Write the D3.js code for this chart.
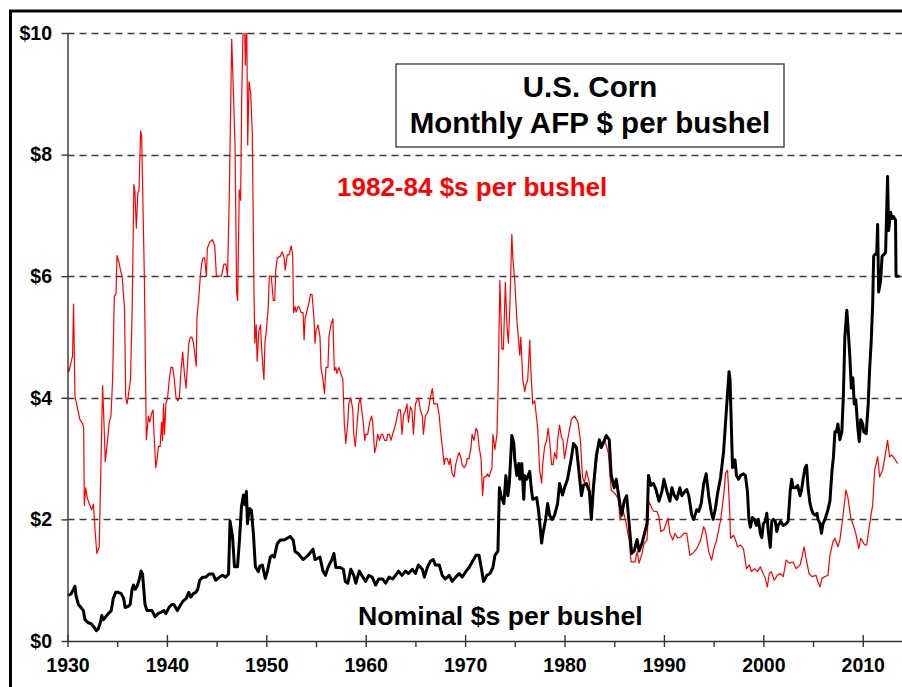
<!DOCTYPE html>
<html>
<head>
<meta charset="UTF-8" />
<title>U.S. Corn Monthly AFP</title>
<script src="https://cdn.jsdelivr.net/npm/d3@7"></script>
<style>
  body { margin: 0; background: #fff; }
  svg { display: block; background: #fff; }
  text { font-family: "Liberation Sans", Arial, sans-serif; font-weight: bold; }
</style>
</head>
<body>
<div id="chart"></div>
<script>
// 1982-84 dollars per bushel  [year, value]
const realPrice = [
  [1930.0,4.5],[1930.14,4.43],[1930.51,4.69],[1930.61,5.54],[1930.75,4.03],[1930.98,3.85],[1931.25,3.64],
  [1931.53,3.57],[1931.63,3.5],[1931.69,2.23],[1931.83,2.52],[1932.0,2.35],[1932.2,2.25],[1932.44,2.16],
  [1932.61,2.25],[1932.78,1.8],[1932.95,1.44],[1933.19,1.55],[1933.39,3.1],[1933.53,4.2],[1933.69,3.5],
  [1933.8,2.95],[1934.03,3.3],[1934.2,3.6],[1934.37,3.7],[1934.54,4.3],[1934.71,5.67],[1934.88,5.7],
  [1934.98,6.34],[1935.22,6.2],[1935.32,6.1],[1935.49,6.0],[1935.73,5.5],[1935.86,4.0],[1936.0,3.9],
  [1936.17,4.1],[1936.34,4.3],[1936.51,5.5],[1936.68,7.51],[1936.78,7.4],[1936.92,6.79],[1937.08,7.38],
  [1937.19,7.4],[1937.36,8.39],[1937.46,8.3],[1937.73,6.0],[1937.93,3.31],[1938.14,3.7],[1938.27,3.6],
  [1938.47,3.75],[1938.61,3.8],[1938.71,3.38],[1938.88,2.85],[1939.02,3.0],[1939.15,3.2],[1939.32,3.2],
  [1939.46,3.6],[1939.56,3.3],[1939.66,3.9],[1939.76,3.4],[1939.9,3.9],[1940.07,4.0],[1940.24,4.3],
  [1940.41,4.5],[1940.58,4.5],[1940.75,4.3],[1940.92,4.0],[1941.08,3.95],[1941.25,4.0],[1941.42,4.45],
  [1941.59,4.75],[1941.76,4.4],[1941.93,4.16],[1942.2,4.89],[1942.37,5.0],[1942.51,5.0],[1942.68,4.9],
  [1942.95,4.52],[1943.02,5.31],[1943.22,5.67],[1943.36,6.0],[1943.49,6.2],[1943.63,6.3],[1943.8,6.3],
  [1943.97,6.0],[1944.07,6.46],[1944.31,6.56],[1944.58,6.6],[1944.81,6.5],[1944.98,6.0],[1945.25,6.0],
  [1945.49,6.0],[1945.73,6.2],[1945.93,6.2],[1946.1,6.0],[1946.28,7.36],[1946.52,9.9],[1946.85,8.19],
  [1947.02,5.72],[1947.12,5.6],[1947.28,7.42],[1947.42,7.25],[1947.52,8.9],[1947.69,10.3],[1947.79,10.3],
  [1947.89,9.47],[1948.03,10.2],[1948.13,8.16],[1948.26,9.2],[1948.43,9.0],[1948.59,8.35],[1948.76,5.72],
  [1948.85,4.9],[1948.98,5.2],[1949.08,4.6],[1949.25,5.1],[1949.42,5.2],[1949.5,4.9],[1949.66,4.5],
  [1949.76,4.3],[1949.86,4.9],[1950.0,5.1],[1950.2,5.5],[1950.3,6.0],[1950.5,6.0],[1950.7,5.6],
  [1950.85,5.6],[1950.95,6.1],[1951.1,6.3],[1951.4,6.33],[1951.6,6.4],[1951.8,6.3],[1951.9,6.1],
  [1952.1,6.35],[1952.3,6.35],[1952.5,6.5],[1952.65,6.35],[1952.75,5.4],[1952.9,5.5],[1953.0,5.41],
  [1953.2,5.5],[1953.3,5.5],[1953.5,5.4],[1953.7,5.4],[1953.8,4.95],[1953.9,5.3],[1954.2,5.5],
  [1954.45,5.7],[1954.6,5.7],[1954.8,5.3],[1954.9,4.9],[1955.0,5.1],[1955.2,5.2],[1955.3,5.1],
  [1955.4,5.0],[1955.5,4.5],[1955.7,4.3],[1955.85,4.07],[1956.0,4.5],[1956.2,4.5],[1956.3,5.0],
  [1956.5,5.2],[1956.7,5.3],[1956.8,4.7],[1956.85,4.45],[1957.0,4.5],[1957.1,4.4],[1957.3,4.5],
  [1957.5,4.4],[1957.7,4.3],[1957.85,3.57],[1958.0,3.25],[1958.2,3.6],[1958.3,3.9],[1958.5,4.0],
  [1958.7,3.8],[1958.8,3.4],[1958.95,3.2],[1959.1,3.5],[1959.3,3.9],[1959.45,4.0],[1959.6,3.8],
  [1959.75,3.6],[1959.9,3.3],[1960.0,3.4],[1960.2,3.4],[1960.4,3.6],[1960.6,3.7],[1960.7,3.6],
  [1960.9,3.1],[1961.05,3.2],[1961.2,3.4],[1961.4,3.3],[1961.55,3.4],[1961.7,3.4],[1961.9,3.3],
  [1962.1,3.3],[1962.2,3.4],[1962.4,3.4],[1962.55,3.3],[1962.7,3.4],[1962.9,3.5],[1963.05,3.6],
  [1963.3,3.8],[1963.5,3.8],[1963.65,3.4],[1963.8,3.7],[1964.0,3.8],[1964.15,3.9],[1964.3,3.6],
  [1964.5,3.85],[1964.65,3.8],[1964.8,3.4],[1965.0,3.9],[1965.15,3.95],[1965.3,4.0],[1965.5,3.8],
  [1965.7,3.7],[1965.8,3.4],[1966.0,3.7],[1966.2,3.75],[1966.3,3.8],[1966.5,4.0],[1966.7,4.15],
  [1966.85,3.9],[1967.0,3.9],[1967.2,3.9],[1967.4,3.7],[1967.5,3.5],[1967.7,3.2],[1967.9,2.9],
  [1968.0,3.0],[1968.2,3.0],[1968.4,2.9],[1968.5,3.0],[1968.7,2.75],[1968.9,2.7],[1969.05,2.9],
  [1969.2,3.0],[1969.4,3.1],[1969.6,3.0],[1969.7,2.9],[1969.9,2.85],[1970.1,2.9],[1970.2,3.0],
  [1970.4,3.0],[1970.6,3.2],[1970.7,3.4],[1970.9,3.3],[1971.1,3.5],[1971.25,3.45],[1971.4,3.2],
  [1971.6,3.0],[1971.75,2.39],[1971.9,2.7],[1972.1,2.7],[1972.25,2.75],[1972.4,2.7],[1972.6,2.8],
  [1972.7,2.85],[1972.8,3.4],[1973.0,3.15],[1973.2,3.4],[1973.3,4.0],[1973.5,5.93],[1973.7,4.8],
  [1973.85,4.8],[1974.05,5.9],[1974.2,5.2],[1974.35,4.9],[1974.5,5.5],[1974.7,6.69],[1974.8,6.3],
  [1975.0,5.9],[1975.2,5.3],[1975.4,4.9],[1975.5,4.7],[1975.6,5.0],[1975.8,4.3],[1976.0,4.1],
  [1976.1,4.2],[1976.3,4.3],[1976.5,4.95],[1976.6,4.5],[1976.8,3.9],[1977.0,3.95],[1977.1,3.8],
  [1977.3,3.5],[1977.5,2.8],[1977.7,2.6],[1977.8,2.9],[1978.0,3.2],[1978.2,3.3],[1978.35,3.5],
  [1978.5,3.3],[1978.7,2.9],[1978.85,2.9],[1979.0,3.1],[1979.2,3.0],[1979.3,3.3],[1979.5,3.55],
  [1979.7,3.35],[1979.85,3.3],[1980.0,3.0],[1980.3,3.3],[1980.7,3.65],[1981.0,3.7],[1981.35,3.6],
  [1981.6,3.3],[1981.8,2.7],[1982.0,2.6],[1982.2,2.8],[1982.5,2.6],[1982.7,2.0],[1982.9,2.4],
  [1983.2,2.9],[1983.5,3.3],[1983.7,3.25],[1984.05,3.3],[1984.4,3.1],[1984.7,2.48],[1985.1,2.42],
  [1985.4,2.34],[1985.6,1.99],[1985.9,2.15],[1986.2,1.93],[1986.5,1.66],[1986.7,1.3],[1987.1,1.3],
  [1987.3,1.47],[1987.5,1.28],[1987.8,1.44],[1988.0,1.6],[1988.3,1.66],[1988.5,2.29],[1988.8,2.18],
  [1989.0,2.13],[1989.3,2.13],[1989.5,2.04],[1989.7,1.8],[1990.0,1.83],[1990.4,2.02],[1990.6,1.77],
  [1990.9,1.66],[1991.1,1.77],[1991.4,1.69],[1991.7,1.71],[1992.0,1.77],[1992.3,1.77],[1992.6,1.41],
  [1992.9,1.44],[1993.2,1.5],[1993.4,1.55],[1993.7,1.66],[1994.0,1.88],[1994.2,1.8],[1994.5,1.47],
  [1994.8,1.33],[1995.0,1.5],[1995.3,1.66],[1995.7,1.99],[1996.0,2.37],[1996.2,2.76],[1996.4,2.81],
  [1996.6,2.21],[1996.7,1.69],[1997.0,1.74],[1997.2,1.66],[1997.4,1.55],[1997.7,1.58],[1998.0,1.52],
  [1998.3,1.19],[1998.6,1.25],[1998.8,1.14],[1999.1,1.19],[1999.4,1.14],[1999.7,1.22],[1999.9,1.14],
  [2000.2,1.03],[2000.4,0.89],[2000.6,1.11],[2000.8,1.14],[2001.1,1.0],[2001.4,1.08],[2001.7,1.11],
  [2002.0,1.06],[2002.3,1.33],[2002.6,1.28],[2003.0,1.3],[2003.3,1.19],[2003.7,1.25],[2003.9,1.39],
  [2004.1,1.55],[2004.3,1.36],[2004.6,1.11],[2004.9,1.06],[2005.3,1.08],[2005.5,0.97],[2005.7,0.89],
  [2005.9,1.03],[2006.2,1.06],[2006.5,1.08],[2006.7,1.41],[2007.0,1.63],[2007.2,1.69],[2007.5,1.55],
  [2007.7,1.66],[2008.0,2.04],[2008.3,2.48],[2008.5,2.37],[2008.8,2.02],[2009.0,1.93],[2009.3,1.77],
  [2009.6,1.52],[2009.8,1.69],[2010.2,1.58],[2010.4,1.58],[2010.7,1.93],[2011.0,2.24],[2011.2,2.81],
  [2011.5,3.03],[2011.7,2.7],[2012.0,2.81],[2012.2,3.0],[2012.5,3.3],[2012.7,3.03],[2012.9,3.06],
  [2013.2,3.0],[2013.5,2.92]
];

// nominal dollars per bushel  [year, value]
const nominalPrice = [
  [1930.0,0.75],[1930.35,0.77],[1930.6,0.85],[1930.75,0.9],[1930.85,0.75],[1931.1,0.6],[1931.35,0.55],
  [1931.6,0.5],[1931.75,0.35],[1932.1,0.3],[1932.4,0.28],[1932.7,0.22],[1932.9,0.17],[1933.1,0.2],
  [1933.3,0.3],[1933.45,0.42],[1933.6,0.35],[1933.85,0.4],[1934.1,0.45],[1934.4,0.5],[1934.6,0.7],
  [1934.85,0.8],[1935.1,0.8],[1935.4,0.78],[1935.65,0.7],[1935.8,0.55],[1936.1,0.57],[1936.3,0.6],
  [1936.5,0.85],[1936.65,0.92],[1936.8,0.85],[1937.0,0.9],[1937.2,1.0],[1937.4,1.15],[1937.55,1.1],
  [1937.8,0.6],[1938.0,0.5],[1938.2,0.5],[1938.5,0.5],[1938.8,0.4],[1939.1,0.45],[1939.5,0.48],
  [1939.7,0.5],[1939.9,0.45],[1940.2,0.55],[1940.5,0.6],[1940.7,0.6],[1941.05,0.5],[1941.4,0.6],
  [1941.6,0.65],[1941.95,0.7],[1942.2,0.8],[1942.4,0.72],[1942.65,0.78],[1942.9,0.8],[1943.1,0.85],
  [1943.3,1.0],[1943.6,1.05],[1943.9,1.05],[1944.25,1.1],[1944.65,1.1],[1944.9,1.0],[1945.3,1.05],
  [1945.6,1.08],[1945.9,1.05],[1946.2,1.1],[1946.35,1.97],[1946.6,1.72],[1946.8,1.22],[1947.1,1.22],
  [1947.3,1.66],[1947.5,2.21],[1947.7,2.4],[1947.85,2.24],[1948.0,2.46],[1948.1,1.93],[1948.3,2.18],
  [1948.5,2.15],[1948.7,1.77],[1948.9,1.22],[1949.2,1.14],[1949.35,1.23],[1949.6,1.25],[1949.9,1.03],
  [1950.1,1.14],[1950.4,1.38],[1950.6,1.41],[1950.8,1.38],[1951.1,1.6],[1951.4,1.66],[1951.8,1.66],
  [1952.1,1.69],[1952.4,1.72],[1952.7,1.66],[1952.9,1.47],[1953.2,1.44],[1953.7,1.34],[1954.2,1.41],
  [1954.7,1.51],[1954.9,1.34],[1955.4,1.38],[1955.7,1.15],[1955.95,1.08],[1956.2,1.21],[1956.6,1.34],
  [1956.8,1.44],[1957.0,1.21],[1957.4,1.21],[1957.75,1.18],[1957.95,0.98],[1958.2,0.95],[1958.5,1.18],
  [1958.8,1.08],[1959.0,0.95],[1959.35,1.15],[1959.6,1.08],[1960.0,0.98],[1960.3,1.08],[1960.65,1.05],
  [1961.0,0.92],[1961.3,1.02],[1961.7,1.02],[1962.0,0.95],[1962.35,1.05],[1962.7,1.02],[1963.0,1.08],
  [1963.3,1.15],[1963.65,1.08],[1964.0,1.15],[1964.3,1.11],[1964.7,1.18],[1965.0,1.11],[1965.3,1.25],
  [1965.7,1.18],[1965.9,1.05],[1966.2,1.21],[1966.5,1.31],[1966.8,1.34],[1967.0,1.25],[1967.4,1.25],
  [1967.7,1.08],[1968.0,1.02],[1968.4,1.08],[1968.7,0.98],[1969.05,1.05],[1969.4,1.11],[1969.7,1.05],
  [1970.1,1.15],[1970.4,1.21],[1970.75,1.31],[1971.1,1.41],[1971.4,1.41],[1971.65,1.18],[1971.85,0.98],
  [1972.2,1.08],[1972.5,1.11],[1972.8,1.21],[1973.0,1.41],[1973.3,1.48],[1973.45,2.52],[1973.6,2.39],
  [1973.9,2.26],[1974.1,2.72],[1974.3,2.39],[1974.45,2.59],[1974.7,3.38],[1974.9,3.25],[1975.0,2.98],
  [1975.2,2.72],[1975.4,2.92],[1975.5,2.66],[1975.7,2.92],[1975.9,2.33],[1976.0,2.72],[1976.2,2.66],
  [1976.5,2.79],[1976.65,2.52],[1976.8,2.33],[1977.2,2.36],[1977.4,2.13],[1977.7,1.61],[1977.8,1.74],
  [1978.1,2.0],[1978.3,2.26],[1978.5,2.07],[1978.75,2.0],[1979.0,2.07],[1979.3,2.26],[1979.5,2.59],
  [1979.8,2.4],[1980.0,2.52],[1980.3,2.66],[1980.7,3.02],[1980.9,3.25],[1981.2,3.18],[1981.45,2.79],
  [1981.7,2.39],[1981.9,2.56],[1982.2,2.59],[1982.5,2.46],[1982.7,2.0],[1982.9,2.52],[1983.2,3.05],
  [1983.5,3.31],[1983.7,3.18],[1983.95,3.28],[1984.2,3.38],[1984.5,3.31],[1984.7,2.72],[1985.0,2.52],
  [1985.2,2.66],[1985.5,2.33],[1985.75,2.07],[1986.0,2.3],[1986.25,2.39],[1986.5,1.93],[1986.75,1.44],
  [1987.0,1.48],[1987.3,1.67],[1987.5,1.48],[1987.8,1.61],[1988.0,1.74],[1988.3,1.93],[1988.45,2.72],
  [1988.7,2.56],[1988.95,2.59],[1989.2,2.49],[1989.5,2.3],[1989.8,2.46],[1990.0,2.66],[1990.3,2.46],
  [1990.6,2.3],[1990.8,2.52],[1991.05,2.39],[1991.3,2.33],[1991.6,2.52],[1991.8,2.39],[1992.1,2.46],
  [1992.3,2.49],[1992.5,2.39],[1992.8,2.07],[1993.0,2.0],[1993.3,2.16],[1993.5,2.13],[1993.75,2.26],
  [1994.0,2.59],[1994.25,2.75],[1994.5,2.39],[1994.75,2.13],[1994.95,2.0],[1995.2,2.2],[1995.4,2.43],
  [1995.7,2.69],[1996.0,3.11],[1996.3,3.84],[1996.55,4.43],[1996.65,4.3],[1996.9,2.85],[1997.15,2.98],
  [1997.3,2.72],[1997.5,2.66],[1997.7,2.72],[1998.0,2.75],[1998.2,2.72],[1998.4,2.46],[1998.55,2.0],
  [1998.7,1.87],[1998.9,2.03],[1999.1,2.0],[1999.3,1.9],[1999.5,2.0],[1999.7,1.77],[1999.85,1.7],
  [2000.0,1.93],[2000.2,1.97],[2000.35,2.1],[2000.5,1.8],[2000.7,1.54],[2000.85,1.97],[2001.0,2.0],
  [2001.2,1.97],[2001.35,1.8],[2001.5,1.9],[2001.75,1.97],[2002.0,1.9],[2002.3,1.93],[2002.5,1.97],
  [2002.7,2.46],[2002.85,2.66],[2003.0,2.52],[2003.25,2.52],[2003.45,2.56],[2003.7,2.39],[2003.85,2.49],
  [2004.0,2.66],[2004.2,2.85],[2004.35,2.89],[2004.5,2.52],[2004.7,2.26],[2004.85,2.16],[2005.0,2.1],
  [2005.2,2.07],[2005.4,2.1],[2005.5,2.0],[2005.7,1.93],[2005.85,1.77],[2006.0,1.93],[2006.2,2.0],
  [2006.4,2.1],[2006.5,2.16],[2006.7,2.3],[2006.9,2.79],[2007.05,3.02],[2007.2,3.44],[2007.35,3.44],
  [2007.5,3.57],[2007.7,3.31],[2007.9,3.44],[2008.05,4.03],[2008.2,5.0],[2008.4,5.44],[2008.5,5.21],
  [2008.7,4.69],[2008.85,4.16],[2009.0,4.33],[2009.15,3.9],[2009.3,3.97],[2009.5,3.51],[2009.65,3.28],
  [2009.8,3.64],[2010.0,3.57],[2010.1,3.44],[2010.35,3.41],[2010.55,3.9],[2010.7,4.49],[2010.85,4.92],
  [2011.0,5.54],[2011.1,6.33],[2011.25,6.36],[2011.4,6.36],[2011.5,6.85],[2011.6,5.74],[2011.8,5.93],
  [2011.95,6.33],[2012.15,6.36],[2012.3,6.39],[2012.5,7.64],[2012.6,6.75],[2012.8,7.05],[2012.95,6.95],
  [2013.1,6.98],[2013.3,6.92],[2013.35,6.0],[2013.7,6.0]
];

const yearTicks = [1930, 1940, 1950, 1960, 1970, 1980, 1990, 2000, 2010];
const minorYearTicks = [1935, 1945, 1955, 1965, 1975, 1985, 1995, 2005];
const priceTicks = [0, 2, 4, 6, 8, 10];
const titleLines = ["U.S. Corn", "Monthly AFP $ per bushel"];
const realLabel = "1982-84 $s per bushel";
const nominalLabel = "Nominal $s per bushel";

const W = 902, H = 687;
const plotLeft = 67.5, plotRight = 902.5, plotTop = 33, plotBottom = 641;

const svg = d3.select("#chart").append("svg")
  .attr("width", W).attr("height", H);

const x = d3.scaleLinear().domain([1930, 2014]).range([plotLeft, plotRight]);
const y = d3.scaleLinear().domain([0, 10]).range([plotBottom, plotTop]);

// outer frame (runs off the right and bottom edge)
svg.append("path")
  .attr("d", "M10.5," + (H + 10) + " V11 H" + (W + 10))
  .attr("fill", "none").attr("stroke", "#000").attr("stroke-width", 3);

// dashed gridlines
svg.append("g").selectAll("line")
  .data(priceTicks.filter(d => d > 0))
  .enter().append("line")
  .attr("x1", plotLeft).attr("x2", W)
  .attr("y1", d => Math.round(y(d)) + 0.5).attr("y2", d => Math.round(y(d)) + 0.5)
  .attr("stroke", "#3a3a3a").attr("stroke-width", 1.3)
  .attr("stroke-dasharray", "7,5");

// clip for the series
svg.append("clipPath").attr("id", "plot")
  .append("rect").attr("x", plotLeft).attr("y", plotTop)
  .attr("width", plotRight - plotLeft).attr("height", plotBottom - plotTop);

const line = d3.line().x(d => x(d[0])).y(d => y(d[1]));

const lines = svg.append("g").attr("clip-path", "url(#plot)");
lines.append("path").datum(realPrice)
  .attr("d", line).attr("fill", "none")
  .attr("stroke", "#ff0000").attr("stroke-width", 1.2)
  .attr("stroke-linejoin", "round");
lines.append("path").datum(nominalPrice)
  .attr("d", line).attr("fill", "none")
  .attr("stroke", "#000").attr("stroke-width", 3)
  .attr("stroke-linejoin", "round");

// x axis
const xAxis = svg.append("g")
  .attr("transform", "translate(0," + plotBottom + ")")
  .call(d3.axisBottom(x).tickValues(yearTicks).tickFormat(d3.format("d"))
    .tickSize(6).tickPadding(11).tickSizeOuter(0));
xAxis.selectAll(".tick line").attr("y1", -6);
svg.append("g")
  .attr("transform", "translate(0," + plotBottom + ")")
  .call(d3.axisBottom(x).tickValues(minorYearTicks).tickFormat("").tickSize(6).tickSizeOuter(0))
  .select(".domain").remove();

// y axis
svg.append("g")
  .attr("transform", "translate(" + plotLeft + ",0)")
  .call(d3.axisLeft(y).tickValues(priceTicks).tickFormat(d => "$" + d)
    .tickSize(6).tickPadding(9.5).tickSizeOuter(0));

svg.selectAll(".domain, .tick line")
  .attr("stroke", "#333").attr("stroke-width", 1.4);
svg.selectAll(".tick text")
  .attr("fill", "#000")
  .style("font-family", '"Liberation Sans", Arial, sans-serif')
  .style("font-weight", "bold")
  .style("font-size", "19.5px");

// title box
const box = svg.append("g");
box.append("rect")
  .attr("x", 396).attr("y", 64).attr("width", 388).attr("height", 83)
  .attr("fill", "#fff").attr("stroke", "#333").attr("stroke-width", 1.3);
box.selectAll("text").data(titleLines).enter().append("text")
  .attr("x", 590).attr("y", (d, i) => 97 + i * 36)
  .attr("text-anchor", "middle")
  .style("font-size", "29.5px").attr("fill", "#000")
  .text(d => d);

// series labels
svg.append("text")
  .attr("x", 337).attr("y", 196)
  .style("font-size", "26px").attr("fill", "#ff0000")
  .text(realLabel);
svg.append("text")
  .attr("x", 358).attr("y", 625)
  .style("font-size", "26.7px").attr("fill", "#000")
  .text(nominalLabel);
</script>
</body>
</html>
